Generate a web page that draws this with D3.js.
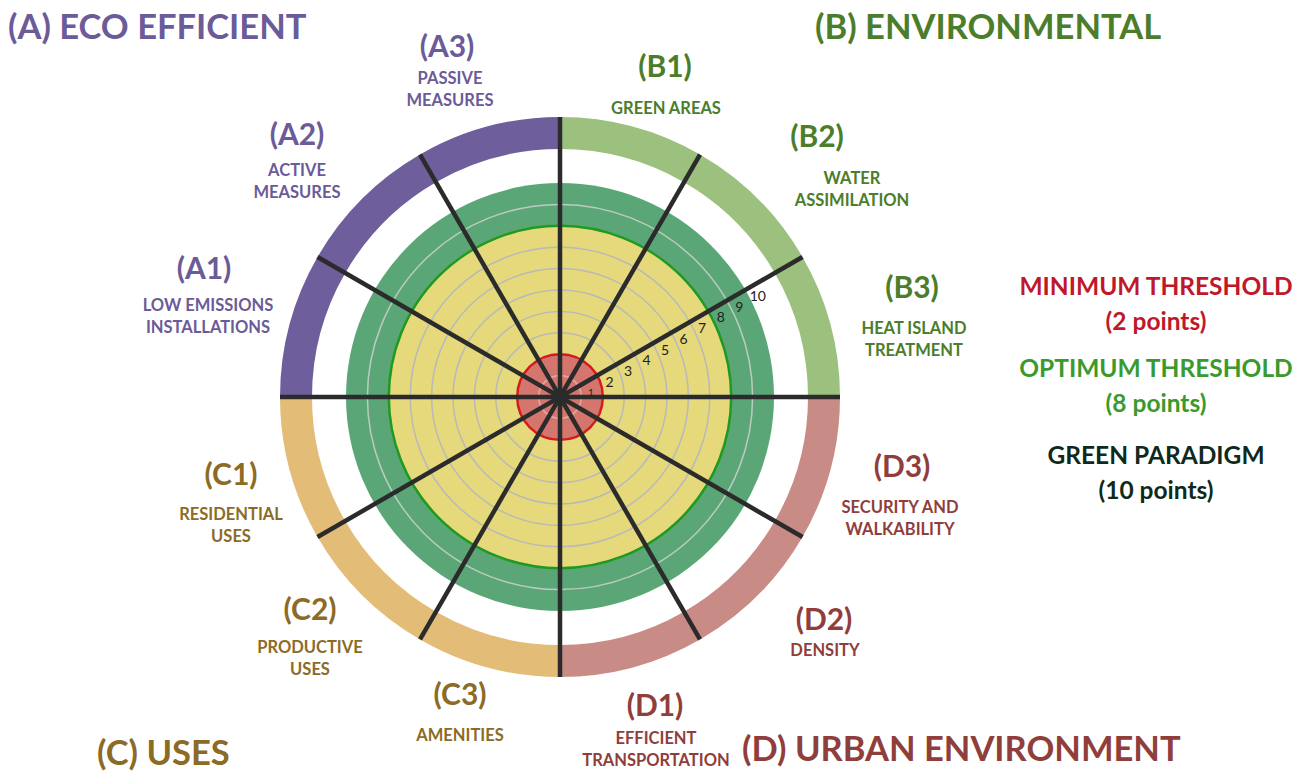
<!DOCTYPE html>
<html>
<head>
<meta charset="utf-8">
<script src="https://cdn.jsdelivr.net/npm/d3@7"></script>
<style>
  body { margin: 0; background: #fff; }
  text { font-family: Lato, "Open Sans", sans-serif; }
</style>
</head>
<body>
<svg id="chart" width="1304" height="771"></svg>
<script>
// criteria, clockwise from 12 o'clock
var criteria = ["B1", "B2", "B3", "D3", "D2", "D1", "C3", "C2", "C1", "A1", "A2", "A3"];
var criteriaGroup = ["B", "B", "B", "D", "D", "D", "C", "C", "C", "A", "A", "A"];
var criteriaNames = [
  ["GREEN AREAS"],
  ["WATER", "ASSIMILATION"],
  ["HEAT ISLAND", "TREATMENT"],
  ["SECURITY AND", "WALKABILITY"],
  ["DENSITY"],
  ["EFFICIENT", "TRANSPORTATION"],
  ["AMENITIES"],
  ["PRODUCTIVE", "USES"],
  ["RESIDENTIAL", "USES"],
  ["LOW EMISSIONS", "INSTALLATIONS"],
  ["ACTIVE", "MEASURES"],
  ["PASSIVE", "MEASURES"]
];
var groups = ["A", "B", "C", "D"];
var groupNames = ["(A) ECO EFFICIENT", "(B) ENVIRONMENTAL", "(C) USES", "(D) URBAN ENVIRONMENT"];
var scoreTicks = [1, 2, 3, 4, 5, 6, 7, 8, 9, 10];
var thresholdNames = ["MINIMUM THRESHOLD", "OPTIMUM THRESHOLD", "GREEN PARADIGM"];
var thresholdPoints = [2, 8, 10];

// styling / layout
var ringColor = { A: "#6e5f9c", B: "#9cc07e", C: "#e3bd78", D: "#c98b86" };
var textColor = { A: "#6b5b98", B: "#4b7d2b", C: "#8b6b25", D: "#8f3e3b" };
var thresholdColor = ["#c0182b", "#3a9a2e", "#0f2a1c"];
// header x, header y, sub-label x, first sub-label y
var labelPos = {
  B1: [665, 65, 666, 108], B2: [817, 135, 852, 178], B3: [912, 286, 914, 328],
  D3: [902, 465, 900, 507], D2: [824, 618, 825, 650], D1: [655, 704, 656, 738],
  C3: [460, 693, 460, 735], C2: [310, 608, 310, 647], C1: [231, 473, 231, 514],
  A1: [204, 267, 208, 305], A2: [297, 133, 297, 170], A3: [447, 45, 450, 78]
};
var groupPos = { A: [8, 39, "start"], B: [815, 39, "start"], C: [97, 765, "start"], D: [742, 761, "start"] };

var cx = 560, cy = 397;
var svg = d3.select("#chart");
var g = svg.append("g").attr("transform", "translate(" + cx + "," + cy + ")");

var r = d3.scaleLinear().domain([0, 10]).range([0, 214]);
var angle = d3.scaleBand().domain(criteria).range([0, 2 * Math.PI]);

// score discs
g.append("circle").attr("r", r(10)).attr("fill", "#5aa677");
g.append("circle").attr("r", r(8)).attr("fill", "#e5d97b");
g.append("circle").attr("r", r(2)).attr("fill", "#d4766e");

// grid circles
g.selectAll("circle.grid")
  .data(scoreTicks.filter(function(d) { return d < 10; }))
  .enter().append("circle")
  .attr("class", "grid")
  .attr("r", function(d) { return r(d); })
  .attr("fill", "none")
  .attr("stroke", function(d) { return d > 8 ? "#bccbbf" : (d < 2 ? "#e2a9a3" : "#b9b9b9"); })
  .attr("stroke-width", 1.5);

// threshold lines
g.append("circle").attr("r", r(8)).attr("fill", "none").attr("stroke", "#1f9a1f").attr("stroke-width", 2.5);
g.append("circle").attr("r", r(2)).attr("fill", "none").attr("stroke", "#d41c1c").attr("stroke-width", 2.5);

// outer category ring
var ring = d3.arc().innerRadius(248).outerRadius(280);
g.selectAll("path.ring")
  .data(criteria)
  .enter().append("path")
  .attr("class", "ring")
  .attr("d", function(d) {
    return ring({ startAngle: angle(d), endAngle: angle(d) + angle.bandwidth() });
  })
  .attr("fill", function(d, i) { return ringColor[criteriaGroup[i]]; });

// spokes
g.selectAll("line.spoke")
  .data(criteria)
  .enter().append("line")
  .attr("class", "spoke")
  .attr("x1", 0).attr("y1", 0)
  .attr("x2", function(d) { return d3.pointRadial(angle(d), 280)[0]; })
  .attr("y2", function(d) { return d3.pointRadial(angle(d), 280)[1]; })
  .attr("stroke", "#2b2b2b")
  .attr("stroke-width", 4.5);
g.append("circle").attr("r", 6).attr("fill", "#2b2b2b");

// score numbers along the B2/B3 spoke
var a0 = angle("B3");
g.selectAll("text.tick")
  .data(scoreTicks)
  .enter().append("text")
  .attr("class", "tick")
  .attr("x", function(d) { return d3.pointRadial(a0, r(d) + 8)[0] + d3.pointRadial(a0 + Math.PI / 2, 11)[0]; })
  .attr("y", function(d) { return d3.pointRadial(a0, r(d) + 8)[1] + d3.pointRadial(a0 + Math.PI / 2, 11)[1]; })
  .attr("text-anchor", "middle")
  .attr("dominant-baseline", "central")
  .attr("font-size", function(d) { return d === 1 ? 10 : 14; })
  .attr("fill", "#222")
  .text(function(d) { return d; });

// criterion labels
criteria.forEach(function(c, i) {
  var p = labelPos[c];
  var col = textColor[criteriaGroup[i]];
  svg.append("text")
    .attr("x", p[0]).attr("y", p[1])
    .attr("text-anchor", "middle").attr("dominant-baseline", "central")
    .attr("font-size", 30).attr("font-weight", "bold").attr("fill", col)
    .text("(" + c + ")");
  criteriaNames[i].forEach(function(line, j) {
    svg.append("text")
      .attr("x", p[2]).attr("y", p[3] + j * 22)
      .attr("text-anchor", "middle").attr("dominant-baseline", "central")
      .attr("font-size", 16.5).attr("font-weight", "bold").attr("fill", col)
      .text(line);
  });
});

// group titles
groups.forEach(function(k, i) {
  var p = groupPos[k];
  svg.append("text")
    .attr("x", p[0]).attr("y", p[1])
    .attr("text-anchor", p[2])
    .attr("font-size", 34.5).attr("font-weight", "bold").attr("fill", textColor[k])
    .text(groupNames[i]);
});

// threshold legend
var legY = [295, 377, 464];
thresholdNames.forEach(function(name, i) {
  svg.append("text")
    .attr("x", 1156).attr("y", legY[i])
    .attr("text-anchor", "middle")
    .attr("font-size", 24.5).attr("font-weight", "bold").attr("fill", thresholdColor[i])
    .text(name);
  svg.append("text")
    .attr("x", 1156).attr("y", legY[i] + 35)
    .attr("text-anchor", "middle")
    .attr("font-size", 24.5).attr("font-weight", "bold").attr("fill", thresholdColor[i])
    .text("(" + thresholdPoints[i] + " points)");
});
</script>
</body>
</html>
